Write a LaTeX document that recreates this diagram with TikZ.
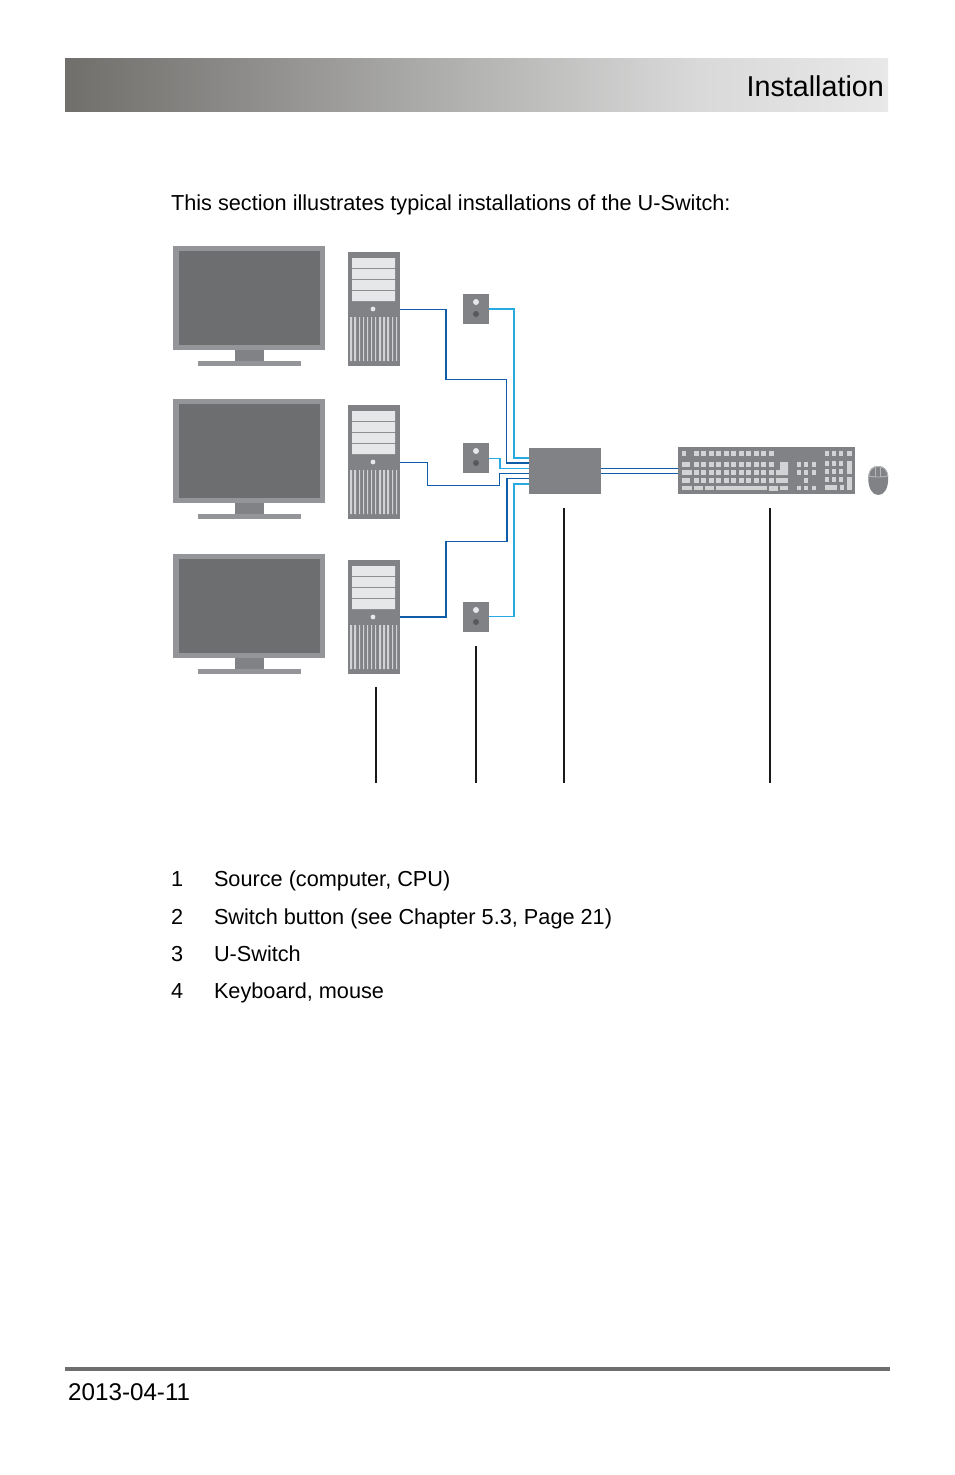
\documentclass[tikz,border=0pt]{standalone}
\usepackage{fontspec}
\setmainfont{Liberation Sans}
\definecolor{devgray}{HTML}{808285}
\definecolor{framegray}{HTML}{939598}
\definecolor{screengray}{HTML}{6D6E70}
\definecolor{panelgray}{HTML}{E6E7E8}
\definecolor{keygray}{HTML}{D1D3D4}
\definecolor{ledgray}{HTML}{58595B}
\definecolor{mouserim}{HTML}{B5B7B9}
\definecolor{wireblue}{HTML}{0F5CA8}
\definecolor{wirecyan}{HTML}{27AAE1}
\definecolor{heada}{HTML}{706F6C}
\definecolor{headb}{HTML}{8E8D8B}
\definecolor{headc}{HTML}{B4B4B3}
\definecolor{headd}{HTML}{D9D9D9}
\definecolor{heade}{HTML}{E8E8E8}
\pgfdeclarehorizontalshading{headshade}{100bp}{
  color(0bp)=(heada);
  color(25bp)=(heada);
  color(36.25bp)=(headb);
  color(50bp)=(headc);
  color(63.5bp)=(headd);
  color(75bp)=(heade);
  color(100bp)=(heade)
}
\tikzset{
  box/.style={fill=devgray,draw=none,inner sep=0pt,outer sep=0pt,anchor=north west},
  bodytext/.style={anchor=base west,inner sep=0pt,outer sep=0pt,font=\fontsize{21.7}{26}\selectfont},
  bluewire/.style={draw=wireblue,line width=1.3pt},
  cyanwire/.style={draw=wirecyan,line width=1.8pt},
  thincyan/.style={draw=wirecyan,line width=1.2pt},
  leader/.style={draw=black!90,line width=1.3pt},
  monitorpic/.pic={
    \fill[framegray] (0,0) rectangle (152,104);
    \fill[screengray] (6,5) rectangle (147,99);
    \fill[devgray] (62,104) rectangle (91,115);
    \fill[framegray] (25,115) rectangle (128,120);
  },
  towerpic/.pic={
    \fill[panelgray] (4,6) rectangle (47,16) (4,17) rectangle (47,27) (4,28) rectangle (47,38) (4,39) rectangle (47,49);
    \fill[panelgray] (25,57) circle (2.4);
    \fill[keygray] (2,65) rectangle (4,109) (6,65) rectangle (8,109) (11,65) rectangle (12,109)
      (15,65) rectangle (16,109) (19,65) rectangle (20,109) (23,65) rectangle (24,109)
      (27,65) rectangle (28,109) (31,65) rectangle (33,109) (35,65) rectangle (37,109)
      (39,65) rectangle (41,109) (44,65) rectangle (45,109) (48,65) rectangle (49,109);
  },
  buttonpic/.pic={
    \fill[panelgray] (13,8) circle (3);
    \fill[ledgray] (13,20) circle (3);
  }
}
\newcommand{\kbkey}[4]{\fill[keygray] (#1,#2) rectangle (#3,#4);}
\begin{document}
\begin{tikzpicture}[x=1pt,y=-1pt]
\useasboundingbox (0,0) rectangle (954,1475);
% header
\node[inner sep=0pt,outer sep=0pt,anchor=north west,minimum width=823pt,minimum height=53.6pt,shading=headshade] (header) at (65,58) {};
\node[anchor=base east,inner sep=0pt,font=\fontsize{28.7}{32}\selectfont] (title) at (884,96.3) {Installation};
\node[bodytext] (intro) at (171,210.5) {This section illustrates typical installations of the U-Switch:};
% monitors
\pic at (173,246) {monitorpic};
\pic at (173,399) {monitorpic};
\pic at (173,553.6) {monitorpic};
% towers
\node[box,minimum width=52pt,minimum height=114pt] (cpua) at (348,252) {};
\node[box,minimum width=52pt,minimum height=114pt] (cpub) at (348,405) {};
\node[box,minimum width=52pt,minimum height=114pt] (cpuc) at (348,560) {};
\pic at (348,252) {towerpic};
\pic at (348,405) {towerpic};
\pic at (348,560) {towerpic};
% switch buttons
\node[box,minimum width=26pt,minimum height=30pt] (btna) at (463,294) {};
\node[box,minimum width=26pt,minimum height=30pt] (btnb) at (463,443) {};
\node[box,minimum width=26pt,minimum height=30pt] (btnc) at (463,602) {};
\pic at (463,294) {buttonpic};
\pic at (463,443) {buttonpic};
\pic at (463,602) {buttonpic};
% switch and keyboard
\node[box,minimum width=72pt,minimum height=46pt] (uswitch) at (529,448) {};
\node[box,minimum width=177pt,minimum height=47pt] (kbd) at (678,447) {};
% ports
\coordinate (pa) at (529,458);
\coordinate (pb) at (529,463);
\coordinate (pc) at (529,468.7);
\coordinate (pd) at (529,473.6);
\coordinate (pe) at (529,478.8);
\coordinate (pf) at (529,484);
\coordinate (kua) at (678,468.7);
\coordinate (kub) at (678,473.4);
% wires
\draw[cyanwire] (btna.east) -| (514,458) -- (pa);
\draw[bluewire] ([yshift=-.5pt]cpua.east) -| (446,379.5) -| (506.5,463) -- (pb);
\draw[thincyan] ([yshift=-.5pt]btnb.east) -| (500,468.7) -- (pc);
\draw[bluewire] ([yshift=-.5pt]cpub.east) -| (427.5,485.7) -| (499.5,473.6) -- (pd);
\draw[bluewire] (cpuc.east) -| (446,541.7) -| (507,478.8) -- (pe);
\draw[cyanwire] ([yshift=.5pt]btnc.east) -| (514,484) -- (pf);
\draw[bluewire] (uswitch.east |- kua) -- (kua);
\draw[bluewire] (uswitch.east |- kub) -- (kub);
% keyboard keys
\foreach \a in {694,701,709,716,724,731,739,746,754,761,769}{
  \kbkey{\a}{451}{\a+5}{456}
  \kbkey{\a}{462}{\a+5}{467}
  \kbkey{\a}{470}{\a+5}{475}
  \kbkey{\a}{478}{\a+5}{483}
}
\kbkey{682}{451}{686}{456}
\kbkey{682}{462}{690}{467}
\kbkey{682}{470}{692}{475}
\kbkey{682}{478}{690}{483}
\fill[keygray] (780,462) -- (788,462) -- (788,475) -- (776,475) -- (776,470) -- (780,470) -- cycle;
\kbkey{776}{478}{788}{483}
\kbkey{682}{486}{692}{490}
\kbkey{694}{486}{703}{490}
\kbkey{705}{486}{714}{490}
\kbkey{716}{486}{767}{490}
\kbkey{769}{486}{778}{491}
\kbkey{780}{486}{788}{490}
\foreach \a in {797,804,812}{
  \kbkey{\a}{462}{\a+4}{467}
  \kbkey{\a}{470}{\a+4}{475}
  \kbkey{\a}{486}{\a+4}{490}
}
\kbkey{804}{478}{808}{483}
\foreach \a in {825,832,839}{
  \kbkey{\a}{451}{\a+4}{456}
  \kbkey{\a}{461}{\a+4}{466}
  \kbkey{\a}{469}{\a+4}{474}
  \kbkey{\a}{477}{\a+4}{482}
}
\kbkey{847}{451}{852}{456}
\kbkey{847}{461}{852}{474}
\kbkey{847}{477}{852}{490}
\kbkey{825}{485}{837}{490}
\kbkey{840}{485}{844}{490}
% mouse
\fill[devgray] (878,466) .. controls (872,466) and (868.5,470) .. (868.3,478) .. controls (868.2,488) and (872,495) .. (878.3,495) .. controls (884.5,495) and (888.3,488) .. (888.2,478) .. controls (888,470) and (884.5,466) .. (878,466) -- cycle;
\draw[mouserim,line width=.9pt] (868.7,476) .. controls (869.2,470) and (872.5,466.5) .. (878,466.5) .. controls (884,466.5) and (887.3,470) .. (887.8,476) .. controls (883,477.4) and (873.5,477.4) .. (868.7,476) -- cycle;
\draw[mouserim,line width=.9pt] (875.6,467) -- (875.6,476.6) (880.8,467) -- (880.8,476.6);
% leaders
\coordinate (la) at (376,687);
\coordinate (lb) at (476,646);
\coordinate (lc) at (564,508);
\coordinate (ld) at (770,508);
\coordinate (lae) at (376,783);
\coordinate (lbe) at (476,783);
\coordinate (lce) at (564,783);
\coordinate (lde) at (770,783);
\draw[leader] (la) -- (lae);
\draw[leader] (lb) -- (lbe);
\draw[leader] (lc) -- (lce);
\draw[leader] (ld) -- (lde);
% legend
\node[bodytext] (numa) at (171,886) {1};
\node[bodytext] (txta) at (214,886) {Source (computer, CPU)};
\node[bodytext] (numb) at (171,924) {2};
\node[bodytext] (txtb) at (214,924) {Switch button (see Chapter 5.3, Page 21)};
\node[bodytext] (numc) at (171,961) {3};
\node[bodytext] (txtc) at (214,961) {U-Switch};
\node[bodytext] (numd) at (171,998) {4};
\node[bodytext] (txtd) at (214,998) {Keyboard, mouse};
% footer
\fill[screengray] (65,1367) rectangle (890,1371);
\node[anchor=base west,inner sep=0pt,font=\fontsize{24.2}{28}\selectfont] (date) at (68,1400) {2013-04-11};
\end{tikzpicture}
\end{document}
